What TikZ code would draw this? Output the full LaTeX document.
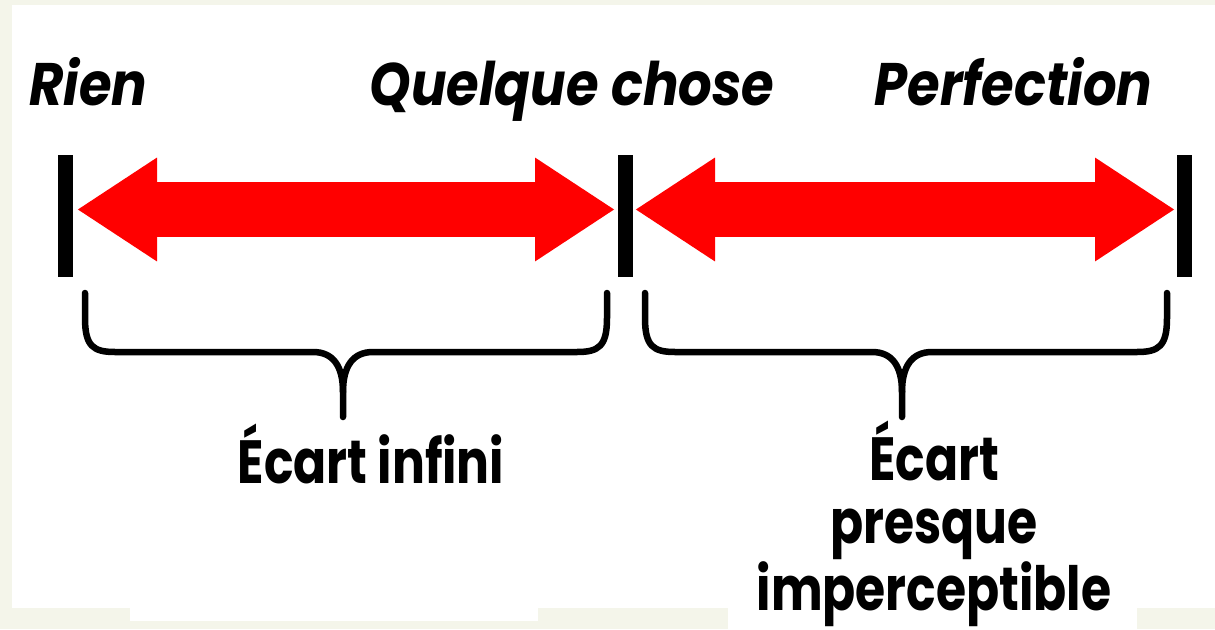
\documentclass[tikz,border=0pt]{standalone}
\usepackage{fontspec}
\setmainfont{Poppins}
\newfontfamily\topfont[FakeStretch=0.88]{Poppins}
\newfontfamily\botfont[FakeStretch=0.8]{Poppins}
\usetikzlibrary{arrows.meta}
\definecolor{cream}{RGB}{244,245,234}
\definecolor{arrowred}{RGB}{255,0,0}
\newcommand\drawcurlybrace[3]{%
  \draw[bracestyle] (#1,293) -- (#1,318) .. controls (#1,346) and ({#1+8},352) .. ({#1+30},352) -- ({#2-30},352) .. controls ({#2-10},352) and (#2,366) .. (#2,392) -- (#2,417);
  \draw[bracestyle] (#2,392) .. controls (#2,366) and ({#2+10},352) .. ({#2+30},352) -- ({#3-30},352) .. controls ({#3-8},352) and (#3,346) .. (#3,318) -- (#3,293);
}
\begin{document}
\begin{tikzpicture}[x=1pt,y=-1pt,
  bar/.style={draw=none, fill=black, minimum width=15pt, minimum height=122pt, inner sep=0pt, outer sep=0pt},
  bigarrow/.style={draw=arrowred, line width=55pt, {Triangle[length=80pt,width=98pt]}-{Triangle[length=80pt,width=98pt]}},
  bracestyle/.style={draw=black, line width=6.5pt, line cap=round, line join=round},
  toplabel/.style={font=\topfont\fontsize{60}{64}\selectfont\bfseries\itshape, anchor=base, inner sep=0pt},
  botlabel/.style={font=\botfont\fontsize{61}{63.5}\selectfont\bfseries, anchor=base, inner sep=0pt, align=center},
  panel/.style={fill=white, draw=none}
]
\useasboundingbox (0,0) rectangle (1215,629);
\fill[cream] (0,0) rectangle (1215,629);
\fill[panel] (12,5) rectangle (1215,608);
\fill[panel] (130,606) rectangle (538,621);
\fill[panel] (728,606) rectangle (1137,629);

% bars
\node[bar] (b1) at (65.5,216) {};
\node[bar] (b2) at (625.5,216) {};
\node[bar] (b3) at (1184.5,216) {};

% arrow ends
\coordinate (a1l) at (77,209.5);
\coordinate (a1r) at (615,209.5);
\coordinate (a2l) at (635,209.5);
\coordinate (a2r) at (1175,209.5);
\draw[bigarrow] (a1l) -- (a1r);
\draw[bigarrow] (a2l) -- (a2r);

% braces
\drawcurlybrace{85}{343}{607}
\drawcurlybrace{645}{902}{1167}

% labels
\node[toplabel] (rien) at (88.5,105) {Rien};
\node[toplabel] (qc) at (572,105) {Quelque chose};
\node[toplabel] (perf) at (1013.5,105) {Perfection};

\node[botlabel] (inf) at (371,483) {Écart infini};
\node[botlabel] (imp) at (934,610) {Écart\\presque\\imperceptible};
\end{tikzpicture}
\end{document}
